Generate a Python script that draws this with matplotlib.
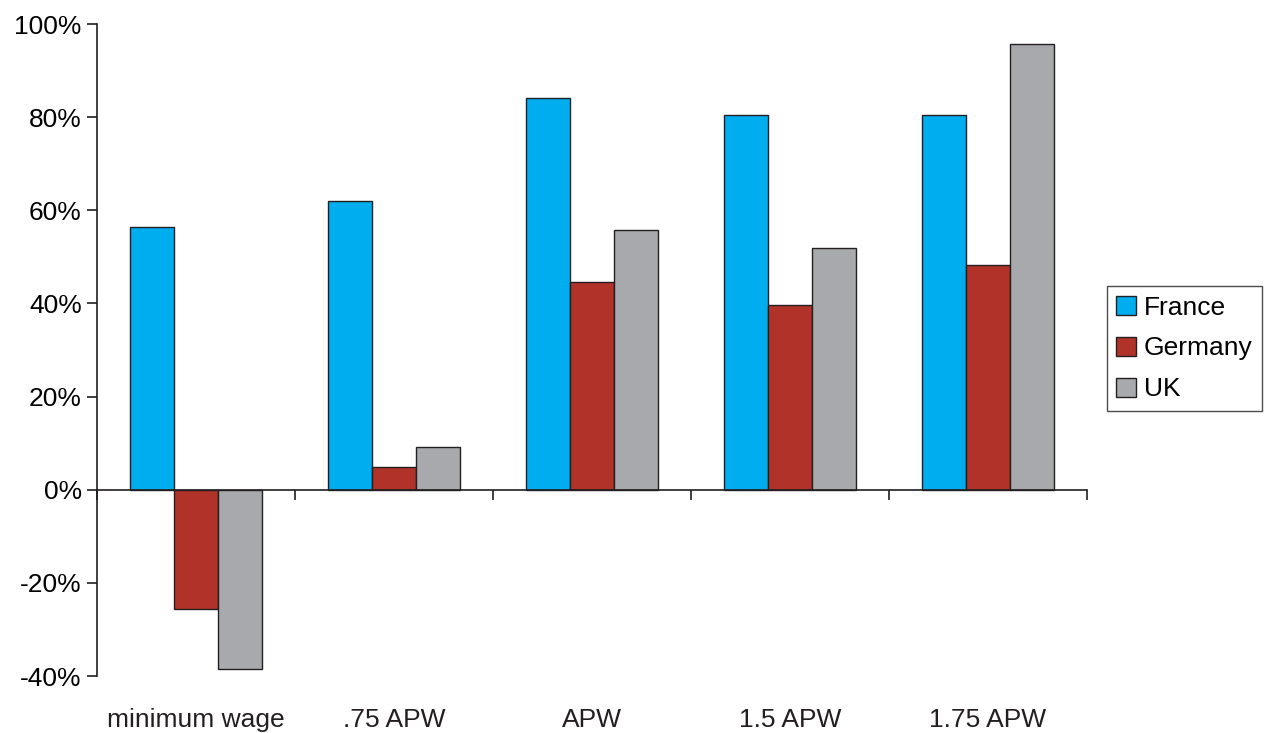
import numpy as np
import matplotlib.pyplot as plt

plt.rcParams['font.family'] = ['Liberation Sans', 'DejaVu Sans']

categories = ["minimum wage", ".75 APW", "APW", "1.5 APW", "1.75 APW"]
france = [56.4, 62.0, 84.1, 80.5, 80.4]
germany = [-25.6, 4.9, 44.6, 39.7, 48.3]
uk = [-38.5, 9.2, 55.8, 51.9, 95.7]

line_col = "#231f20"

fig = plt.figure(figsize=(12.65, 7.33), dpi=100)
ax = fig.add_axes([97/1265, 57/733, (1087-97)/1265, (676-24)/733])

x = np.arange(len(categories))
w = 0.222
ax.bar(x - w, france, w, color="#00aeef", edgecolor=line_col, linewidth=1, label="France")
ax.bar(x, germany, w, color="#b03228", edgecolor=line_col, linewidth=1, label="Germany")
ax.bar(x + w, uk, w, color="#a7a9ac", edgecolor=line_col, linewidth=1, label="UK")

ax.set_xlim(-0.5, len(categories) - 0.5)
ax.set_ylim(-40, 100)
ax.set_yticks(np.arange(-40, 101, 20))
ax.set_yticklabels([f"{v}%" for v in range(-40, 101, 20)], fontsize=19)

ax.spines["top"].set_visible(False)
ax.spines["right"].set_visible(False)
ax.spines["bottom"].set_position(("data", 0))
for s in ["left", "bottom"]:
    ax.spines[s].set_color(line_col)
    ax.spines[s].set_linewidth(1.2)

ax.set_xticks(np.arange(-0.5, len(categories), 1.0))
ax.set_xticklabels([])
ax.tick_params(axis="x", direction="out", length=7, width=1.2, color=line_col)
ax.tick_params(axis="y", direction="out", length=7, width=1.2, color=line_col, pad=4)

for i, c in enumerate(categories):
    ax.text(i, -0.067, c, transform=ax.get_xaxis_transform(), ha="center",
            va="center", fontsize=19, color=line_col)

leg = ax.legend(loc="center left", bbox_to_anchor=(1107/1265, 1 - 348.5/733),
                bbox_transform=fig.transFigure, fontsize=19, frameon=True,
                fancybox=False, edgecolor=line_col, handlelength=0.75,
                handleheight=0.75, handletextpad=0.3, borderpad=0.35,
                labelspacing=0.64, borderaxespad=0)
leg.get_frame().set_linewidth(1.0)

fig.savefig("out.png", dpi=100)
